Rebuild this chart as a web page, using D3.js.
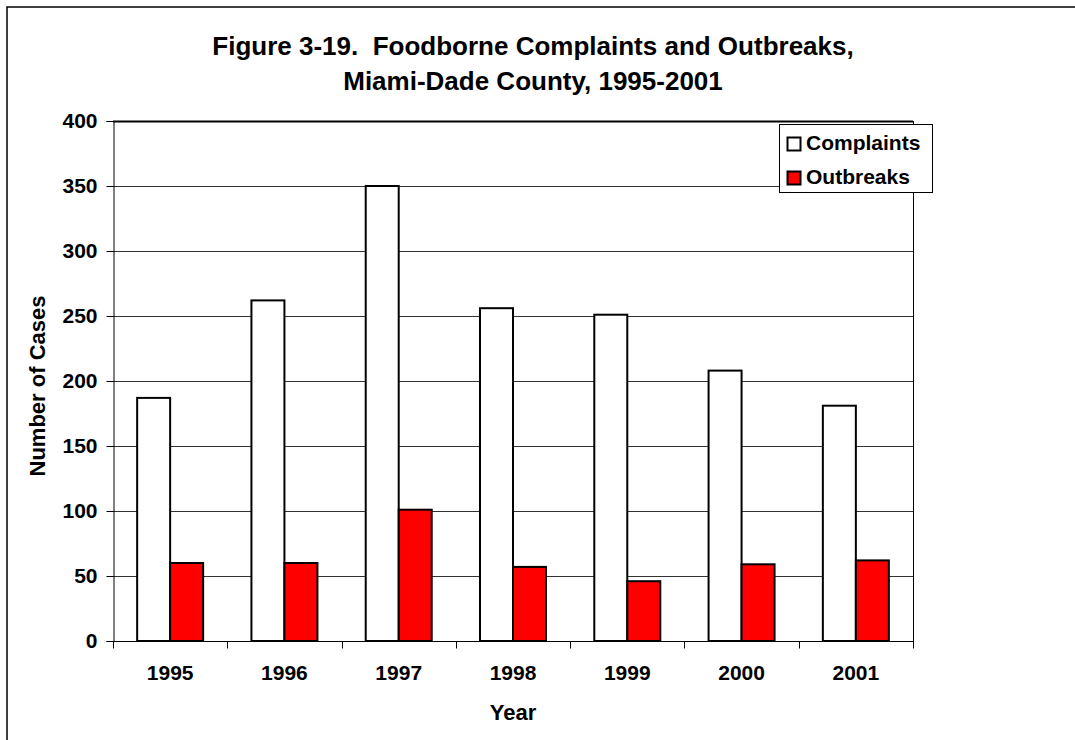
<!DOCTYPE html>
<html>
<head>
<meta charset="utf-8">
<script src="https://cdn.jsdelivr.net/npm/d3@7"></script>
<style>
  html, body { margin: 0; padding: 0; background: #fff; }
  svg { display: block; font-family: "Liberation Sans", Arial, sans-serif; font-weight: bold; }
</style>
</head>
<body>
<svg id="chart" width="1075" height="740"></svg>
<script>
const years = ["1995", "1996", "1997", "1998", "1999", "2000", "2001"];
const complaints = [187, 262, 350, 256, 251, 208, 181];
const outbreaks = [60, 60, 101, 57, 46, 59, 62];
const seriesNames = ["Complaints", "Outbreaks"];
const seriesColors = ["#ffffff", "#ff0000"];
const yTicks = [0, 50, 100, 150, 200, 250, 300, 350, 400];
const titleLines = ["Figure 3-19.  Foodborne Complaints and Outbreaks,", "Miami-Dade County, 1995-2001"];

const svg = d3.select("#chart");
const W = 1075, H = 740;
const m = { left: 113, right: 913, top: 121, bottom: 641 };

// outer frame
svg.append("rect").attr("x", 7).attr("y", 7).attr("width", W + 10).attr("height", H + 10)
  .attr("fill", "#fff").attr("stroke", "#000").attr("stroke-width", 1.5);

const y = d3.scaleLinear().domain([0, 400]).range([m.bottom, m.top]);
const x0 = d3.scaleBand().domain(years).range([m.left, m.right]).padding(0);
const bw = x0.bandwidth();
const x1 = d3.scaleBand().domain(seriesNames).range([bw * 0.2113, bw * 0.7887]).padding(0);

// gridlines
svg.append("g").selectAll("line").data(yTicks.filter(d => d > 0)).join("line")
  .attr("x1", m.left).attr("x2", m.right)
  .attr("y1", d => Math.round(y(d)) + 0.5).attr("y2", d => Math.round(y(d)) + 0.5)
  .attr("stroke", d => d === 400 ? "#000" : "#333").attr("stroke-width", d => d === 400 ? 2 : 1);

// right plot border
svg.append("line").attr("x1", m.right + 0.5).attr("x2", m.right + 0.5)
  .attr("y1", m.top).attr("y2", m.bottom).attr("stroke", "#000").attr("stroke-width", 1);

// bars
const data = years.map((yr, i) => ({ year: yr, values: [complaints[i], outbreaks[i]] }));
const groups = svg.append("g").selectAll("g").data(data).join("g")
  .attr("transform", d => `translate(${x0(d.year)},0)`);
groups.selectAll("rect").data(d => d.values.map((v, j) => ({ name: seriesNames[j], v, j }))).join("rect")
  .attr("x", d => x1(d.name))
  .attr("width", x1.bandwidth())
  .attr("y", d => y(d.v))
  .attr("height", d => y(0) - y(d.v))
  .attr("fill", d => seriesColors[d.j])
  .attr("stroke", "#000").attr("stroke-width", 2);

// y axis
const yAxis = svg.append("g").attr("transform", `translate(${m.left + 0.5},0)`)
  .call(d3.axisLeft(y).tickValues(yTicks).tickSize(7).tickPadding(9).tickFormat(d3.format("d")));
yAxis.select(".domain").attr("stroke", "#000");
yAxis.selectAll(".tick line").attr("stroke", "#000");
yAxis.selectAll("text").attr("font-size", 21).attr("font-weight", "bold").attr("fill", "#000")
  .attr("font-family", "Liberation Sans, Arial, sans-serif");

// x axis
const xAxis = svg.append("g").attr("transform", `translate(0,${m.bottom + 0.5})`)
  .call(d3.axisBottom(x0).tickSize(0).tickPadding(24));
xAxis.select(".domain").attr("stroke", "#000").attr("d", `M${m.left},0H${m.right + 1}`);
xAxis.selectAll("text").attr("font-size", 21).attr("font-weight", "bold").attr("fill", "#000")
  .attr("font-family", "Liberation Sans, Arial, sans-serif");
const bounds = years.map(d => x0(d)).concat([x0(years[years.length - 1]) + bw]);
xAxis.append("g").selectAll("line").data(bounds).join("line")
  .attr("x1", d => Math.round(d) + 0.5).attr("x2", d => Math.round(d) + 0.5)
  .attr("y1", 0).attr("y2", 7).attr("stroke", "#000");

// title
svg.append("g").selectAll("text").data(titleLines).join("text")
  .attr("x", 533).attr("y", (d, i) => 55 + i * 35)
  .attr("text-anchor", "middle").attr("font-size", 26)
  .style("white-space", "pre").attr("fill", "#000")
  .text(d => d);

// axis titles
svg.append("text").attr("transform", `translate(45,386) rotate(-90)`)
  .attr("text-anchor", "middle").attr("font-size", 22).attr("fill", "#000")
  .text("Number of Cases");
svg.append("text").attr("x", (m.left + m.right) / 2).attr("y", 720)
  .attr("text-anchor", "middle").attr("font-size", 22).attr("fill", "#000")
  .text("Year");

// legend
const lg = svg.append("g");
lg.append("rect").attr("x", 779.5).attr("y", 124.5).attr("width", 153).attr("height", 68)
  .attr("fill", "#fff").attr("stroke", "#000").attr("stroke-width", 1);
const items = lg.selectAll("g.item").data(seriesNames).join("g").attr("class", "item")
  .attr("transform", (d, i) => `translate(0,${i * 34})`);
items.append("rect").attr("x", 787.5).attr("y", 137.5).attr("width", 13).attr("height", 13)
  .attr("fill", (d, i) => seriesColors[i]).attr("stroke", "#000").attr("stroke-width", 2);
items.append("text").attr("x", 806).attr("y", 150).attr("font-size", 21).attr("fill", "#000")
  .text(d => d);
</script>
</body>
</html>
